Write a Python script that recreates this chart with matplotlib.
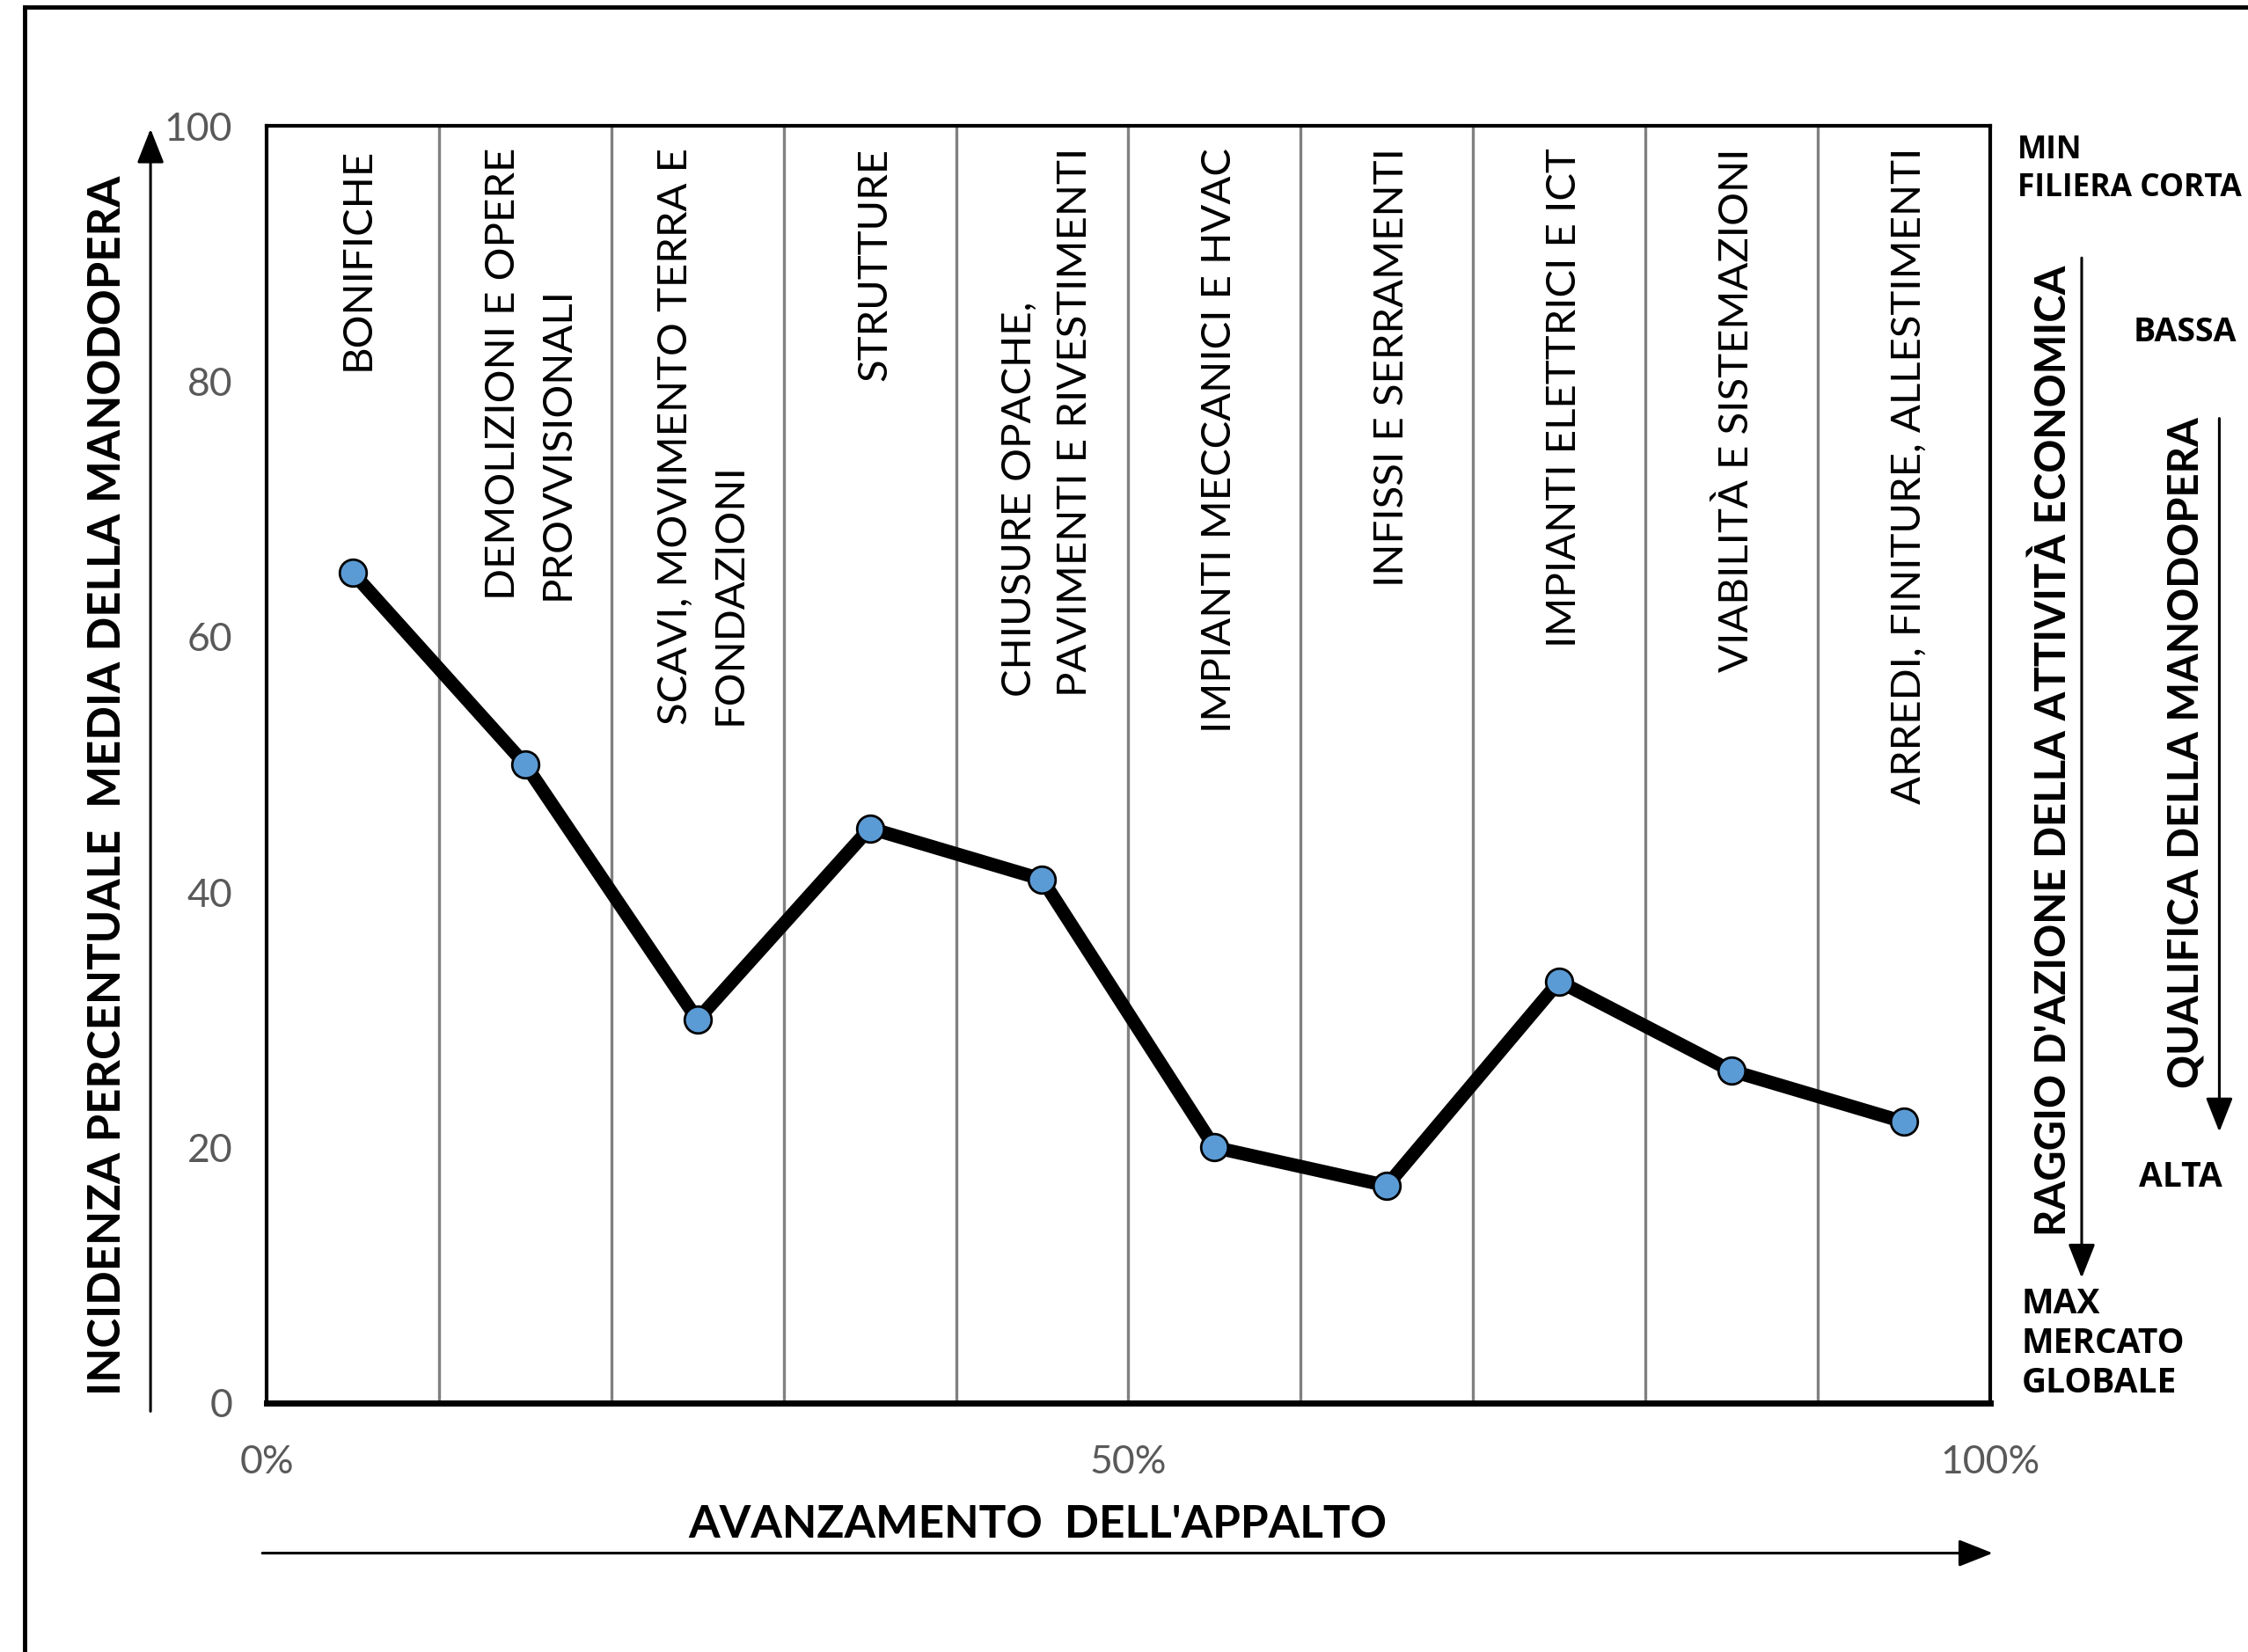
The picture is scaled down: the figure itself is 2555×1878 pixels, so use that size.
import matplotlib
matplotlib.use("Agg")
import matplotlib.pyplot as plt
from matplotlib.patches import FancyArrowPatch
from matplotlib.lines import Line2D

plt.rcParams['font.family'] = ['Lato', 'DejaVu Sans']

# ---- data ----
categories = [
    "BONIFICHE",
    "DEMOLIZIONI E OPERE\nPROVVISIONALI",
    "SCAVI, MOVIMENTO TERRA E\nFONDAZIONI",
    "STRUTTURE",
    "CHIUSURE OPACHE,\nPAVIMENTI E RIVESTIMENTI",
    "IMPIANTI MECCANICI E HVAC",
    "INFISSI E SERRAMENTI",
    "IMPIANTI ELETTRICI E ICT",
    "VIABILITÀ E SISTEMAZIONI",
    "ARREDI, FINITURE, ALLESTIMENTI",
]
progress = [5, 15, 25, 35, 45, 55, 65, 75, 85, 95]          # % avanzamento (centro fase)
labour_share = [65, 50, 30, 45, 41, 20, 17, 33, 26, 22]     # incidenza % manodopera
boundaries = [10, 20, 30, 40, 50, 60, 70, 80, 90]
y_ticks = [0, 20, 40, 60, 80, 100]
x_ticks = [0, 50, 100]
x_tick_labels = ["0%", "50%", "100%"]

W, H = 1568.0, 1153.0   # reference display units
def fx(x): return x / W
def fy(y): return 1 - y / H

fig = plt.figure(figsize=(25.55, 18.78), dpi=100)
ax = fig.add_axes([fx(186), fy(979), fx(1388) - fx(186), fy(88) - fy(979)])
ax.set_xlim(0, 100)
ax.set_ylim(0, 100)

for b in boundaries:
    ax.axvline(b, color='#808080', lw=2.4, zorder=1)

ax.plot(progress, labour_share, color='black', lw=11, zorder=3,
        marker='o', markersize=22, markerfacecolor='#5B9BD5',
        markeredgecolor='black', markeredgewidth=2.0, solid_joinstyle='miter')

for xc, lab in zip(progress, categories):
    ax.text(xc + 0.3, 98.3, lab, rotation=90, ha='center', va='top',
            multialignment='left', fontsize=34, color='black',
            linespacing=1.6, zorder=2)

for s in ['left', 'top', 'right']:
    ax.spines[s].set_linewidth(3)
ax.spines['bottom'].set_linewidth(5)

ax.set_yticks(y_ticks)
ax.set_yticklabels([str(v) for v in y_ticks])
ax.set_xticks(x_ticks)
ax.set_xticklabels(x_tick_labels)
ax.tick_params(axis='both', length=0, labelsize=32, labelcolor='#595959')
ax.tick_params(axis='y', pad=28)
ax.tick_params(axis='x', pad=34)

# ---- outer frame (cut off on right/bottom) ----
fig.add_artist(Line2D([fx(17), fx(17)], [-0.05, fy(5)], transform=fig.transFigure,
                      color='black', lw=3.5))
fig.add_artist(Line2D([fx(17), 1.05], [fy(5), fy(5)], transform=fig.transFigure,
                      color='black', lw=3.5))

def arrow(p0, p1):
    a = FancyArrowPatch((fx(p0[0]), fy(p0[1])), (fx(p1[0]), fy(p1[1])),
                        transform=fig.transFigure,
                        arrowstyle='-|>,head_length=2.4,head_width=0.95',
                        mutation_scale=10, lw=2.2, color='black',
                        shrinkA=0, shrinkB=0)
    fig.add_artist(a)

arrow((105, 985), (105, 90))
arrow((183, 1084), (1390, 1084))
arrow((1452, 180), (1452, 892))
arrow((1548, 292), (1548, 790))

# ---- axis titles ----
fig.text(fx(75), fy(548), "INCIDENZA PERCENTUALE  MEDIA DELLA MANODOPERA",
         rotation=90, ha='center', va='center', fontsize=36.5, fontweight='bold')
fig.text(fx(724), fy(1064), "AVANZAMENTO  DELL'APPALTO", ha='center', va='center',
         fontsize=37, fontweight='bold')

fig.text(fx(1432), fy(524), "RAGGIO D'AZIONE DELLA ATTIVITÀ ECONOMICA",
         rotation=90, ha='center', va='center', fontsize=34, fontweight='bold')
fig.text(fx(1525), fy(525), "QUALIFICA DELLA MANODOPERA",
         rotation=90, ha='center', va='center', fontsize=34, fontweight='bold')

side_font = ['Open Sans', 'DejaVu Sans']
fig.text(fx(1407), fy(118), "MIN\nFILIERA CORTA", ha='left', va='center',
         fontsize=25.5, fontweight='bold', linespacing=1.25, family=side_font)
fig.text(fx(1488), fy(232), "BASSA", ha='left', va='center',
         fontsize=27, fontweight='bold', family=side_font)
fig.text(fx(1492), fy(822), "ALTA", ha='left', va='center',
         fontsize=28, fontweight='bold', family=side_font)
fig.text(fx(1410), fy(938), "MAX\nMERCATO\nGLOBALE", ha='left', va='center',
         fontsize=28, fontweight='bold', linespacing=1.2, family=side_font)

fig.savefig("out.png", dpi=100, facecolor='white')
